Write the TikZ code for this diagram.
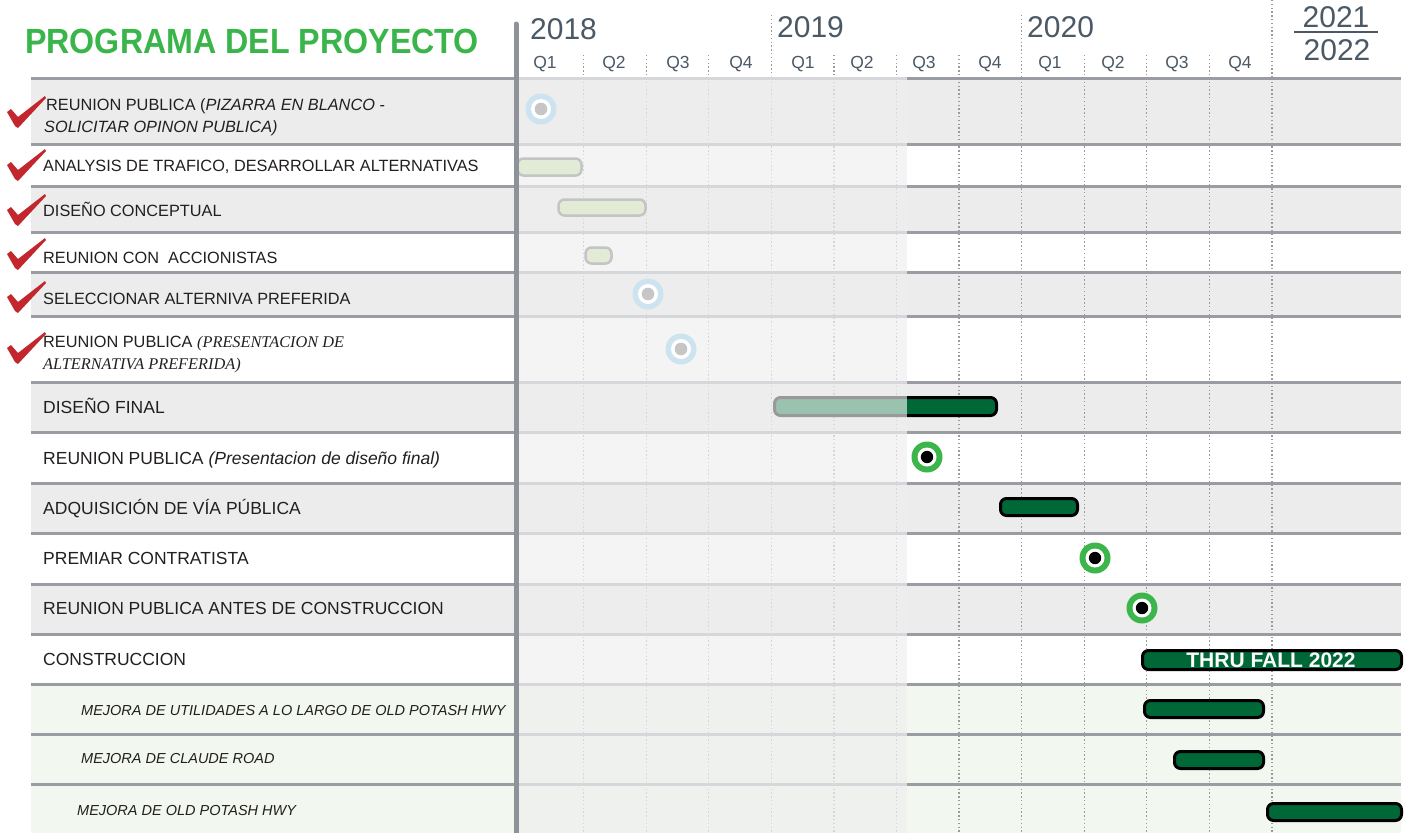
\documentclass[tikz,border=0pt]{standalone}
\usepackage{fontspec}
\setmainfont{Liberation Sans}
\newfontfamily\timesf{Liberation Serif}
\usetikzlibrary{positioning}

\definecolor{titlegreen}{HTML}{3AB54A}
\definecolor{rowgray}{HTML}{ECECEC}
\definecolor{rowgreen}{HTML}{F2F7EF}
\definecolor{linegray}{HTML}{999CA3}
\definecolor{axisgray}{HTML}{8E939A}
\definecolor{yeartext}{HTML}{4A5965}
\definecolor{qdotgray}{HTML}{9A9A9A}
\definecolor{barfill}{HTML}{006837}
\definecolor{pastfill}{HTML}{E2EBD6}
\definecolor{pastline}{HTML}{C4C4C4}
\definecolor{ringblue}{HTML}{CDE3EF}
\definecolor{dotgray}{HTML}{C6C6C6}
\definecolor{ringgreen}{HTML}{3CB64A}
\definecolor{checkred}{HTML}{C1272D}
\definecolor{labeltext}{HTML}{231F20}

\begin{document}
\begin{tikzpicture}[x=1pt,y=-1pt,
  tasktext/.style={anchor=base west,inner sep=0pt,text=labeltext,font=\fontsize{16.3}{19}\selectfont},
  bigtext/.style={tasktext,font=\fontsize{17.5}{21}\selectfont},
  subtext/.style={tasktext,font=\fontsize{14.5}{17}\selectfont\itshape},
  qtext/.style={anchor=base,inner sep=0pt,text=yeartext,font=\fontsize{17.5}{20}\selectfont},
  yearnum/.style={anchor=base west,inner sep=0pt,text=yeartext,font=\fontsize{30}{34}\selectfont},
  rowline/.style={linegray,line width=3pt},
  qline/.style={qdotgray,line width=1.2pt,dash pattern=on 1.4pt off 2.4pt},
  pastbar/.style={fill=pastfill,draw=pastline,line width=2.5pt,rounded corners=6pt},
  taskbar/.style={fill=barfill,draw=black,line width=3pt,rounded corners=6pt}]
\useasboundingbox (0,0) rectangle (1409,833);

% rows
\foreach \ya/\yb/\rc in {78/144/rowgray,144/186/white,186/232/rowgray,232/272/white,
  272/316/rowgray,316/382/white,382/432/rowgray,432/483/white,483/533/rowgray,
  533/584/white,584/634/rowgray,634/684/white,684/734/rowgreen,734/784/rowgreen,784/833/rowgreen}
  \fill[\rc] (31,\ya) rectangle (1401,\yb);
\fill[black,opacity=0.1] (518,78) rectangle (907,833);
\foreach \yl in {78,144,186,232,272,316,382,432,483,533,584,634,684,734,784}
  \draw[rowline] (31,\yl) -- (1401,\yl);

% quarter lines
\foreach \k in {1,...,12}
  \draw[qline] (521+62.58*\k,78) -- (521+62.58*\k,833);
\foreach \k in {1,2,3,5,6,7,9,10,11}
  \draw[qline] (521+62.58*\k,55) -- (521+62.58*\k,78);
\draw[qline] (771.3,15) -- (771.3,78);
\draw[qline] (1021.6,15) -- (1021.6,78);
\draw[qline] (1272,0) -- (1272,78);

\draw[taskbar] (774.5,397.5) rectangle (996.5,415.5);

% past part
\fill[white,opacity=0.6] (518,76) rectangle (907,833);
\draw[pastbar] (517.5,158.5) rectangle (581.5,175.5);
\draw[pastbar] (558.5,199.5) rectangle (645.5,215.5);
\draw[pastbar] (585.5,247.5) rectangle (611.5,263.5);
\foreach \mx/\my in {541/109,648/294,681/349} {
  \fill[ringblue] (\mx,\my) circle (15.5pt);
  \fill[white] (\mx,\my) circle (10pt);
  \fill[dotgray] (\mx,\my) circle (6.3pt);
}

\draw[axisgray,line width=5pt,line cap=round] (516,24) -- (516,833);

% upcoming
\draw[taskbar] (1000.5,498.5) rectangle (1077.5,515.5);
\draw[taskbar] (1142.5,650.5) rectangle (1401.5,669.5);
\node[inner sep=0pt,anchor=base,text=white,font=\fontsize{21}{24}\selectfont\bfseries] (thru) at (1271,667.5) {THRU FALL 2022};
\draw[taskbar] (1144.5,700.5) rectangle (1263.5,717.5);
\draw[taskbar] (1174.5,751.5) rectangle (1263.5,768.5);
\draw[taskbar] (1267.5,803.5) rectangle (1401.5,820.5);
\foreach \mx/\my in {927/457,1095/558,1142/608} {
  \fill[ringgreen] (\mx,\my) circle (15.5pt);
  \fill[white] (\mx,\my) circle (9.5pt);
  \fill[black] (\mx,\my) circle (6.2pt);
}

% header
\node[anchor=base west,inner sep=0pt,xscale=0.92,text=titlegreen,font=\fontsize{35}{40}\selectfont\bfseries] (title) at (25,53) {PROGRAMA DEL PROYECTO};
\node[yearnum] (y18) at (530,39) {2018};
\node[yearnum] (y19) at (777,37) {2019};
\node[yearnum] (y20) at (1027,37) {2020};
\node[yearnum,anchor=base] (y21) at (1336,27) {2021};
\node[yearnum,anchor=base] (y22) at (1337,60) {2022};
\draw[yeartext,line width=1.8pt] (1294,32) -- (1378,32);
\foreach \qx/\qn [count=\i] in {545/1,614/2,678/3,741/4,803/1,862/2,924/3,990/4,1050/1,1113/2,1177/3,1240/4}
  \node[qtext] (q\i) at (\qx,68) {Q\qn};

% checks
\foreach \cy in {112,165,210,254,297,348}
  \fill[checkred,shift={(27,\cy)}] (-20,0) -- (-16,-3) -- (-9,5) -- (18,-16) -- (19,-14) -- (-9,16) -- (-12,14) -- cycle;

% task names
\node[tasktext] (t1a) at (46,110) {REUNION PUBLICA (\textit{PIZARRA EN BLANCO -}};
\node[tasktext] (t1b) at (44,132) {\textit{SOLICITAR OPINON PUBLICA)}};
\node[tasktext] (t2) at (43,171) {ANALYSIS DE TRAFICO, DESARROLLAR ALTERNATIVAS};
\node[tasktext] (t3) at (43,216) {DISEÑO CONCEPTUAL};
\node[tasktext] (t4) at (43,263) {REUNION CON\ \ ACCIONISTAS};
\node[tasktext] (t5) at (43,304) {SELECCIONAR ALTERNIVA PREFERIDA};
\node[tasktext] (t6a) at (43,347) {REUNION PUBLICA {\timesf\itshape (PRESENTACION DE}};
\node[tasktext] (t6b) at (43,369) {\timesf\itshape ALTERNATIVA PREFERIDA)};
\node[bigtext] (t7) at (43,413) {DISEÑO FINAL};
\node[bigtext] (t8) at (43,464) {REUNION PUBLICA \textit{(Presentacion de diseño final)}};
\node[bigtext] (t9) at (43,514) {ADQUISICIÓN DE VÍA PÚBLICA};
\node[bigtext] (t10) at (43,564) {PREMIAR CONTRATISTA};
\node[bigtext] (t11) at (43,614) {REUNION PUBLICA ANTES DE CONSTRUCCION};
\node[bigtext] (t12) at (43,665) {CONSTRUCCION};
\node[subtext] (t13) at (81,715) {MEJORA DE UTILIDADES A LO LARGO DE OLD POTASH HWY};
\node[subtext] (t14) at (81,763) {MEJORA DE CLAUDE ROAD};
\node[subtext] (t15) at (77,815) {MEJORA DE OLD POTASH HWY};
\end{tikzpicture}
\end{document}
